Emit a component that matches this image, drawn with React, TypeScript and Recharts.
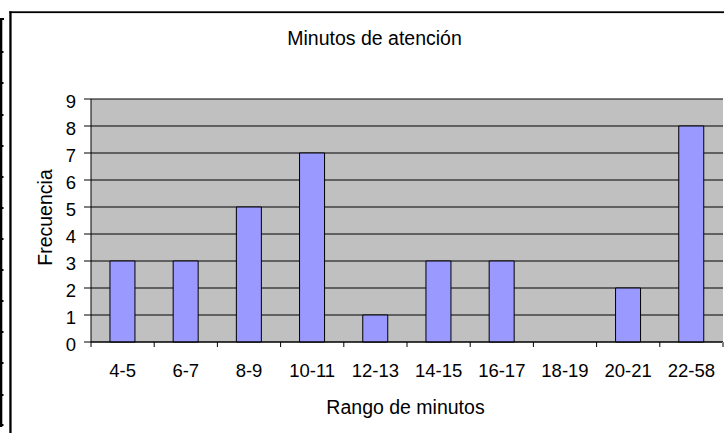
import React from 'react';
import { BarChart, Bar, XAxis, YAxis, CartesianGrid } from 'recharts';

const categories = ['4-5', '6-7', '8-9', '10-11', '12-13', '14-15', '16-17', '18-19', '20-21', '22-58'];
const frequencies = [3, 3, 5, 7, 1, 3, 3, 0, 2, 8];
const yTicks = [0, 1, 2, 3, 4, 5, 6, 7, 8, 9];
const chartTitle = 'Minutos de atención';
const xTitle = 'Rango de minutos';
const yTitle = 'Frecuencia';

const data = categories.map((c, i) => ({ range: c, freq: frequencies[i] }));

const W = 724;
const H = 433;
const M = { top: 99, right: 1, bottom: 61, left: 61 };
const YAXIS_W = 30;
const PLOT_W = W - M.left - M.right - YAXIS_W;
const HALF_BAND = PLOT_W / categories.length / 2;
const FONT = '"Liberation Sans", Arial, sans-serif';
const TICK_FS = 18.5;

const stripTicks = [52, 83, 115, 146, 177, 208, 239, 270, 301, 332, 363, 395, 425];

const XTick = (props: any) => {
  const { x, y, payload, index } = props;
  const last = index === categories.length - 1;
  return (
    <g>
      <line x1={x - HALF_BAND} y1={y} x2={x - HALF_BAND} y2={y + 5} stroke="#000" strokeWidth={1} />
      {last && (
        <line x1={x + HALF_BAND} y1={y} x2={x + HALF_BAND} y2={y + 5} stroke="#808080" strokeWidth={2} />
      )}
      <text x={x} y={y + 35} textAnchor="middle" fontSize={TICK_FS} fontFamily={FONT} fill="#000">
        {payload.value}
      </text>
    </g>
  );
};

export default function App() {
  return (
    <div style={{ position: 'absolute', left: 0, top: 0, width: W, height: H, background: '#fff' }}>
      <BarChart width={W} height={H} data={data} margin={M} barCategoryGap="30%">
        <CartesianGrid vertical={false} stroke="#000" fill="#C0C0C0" fillOpacity={1} />
        <XAxis
          dataKey="range"
          interval={0}
          tickSize={0}
          tickMargin={0}
          tickLine={false}
          axisLine={{ stroke: '#000', strokeWidth: 1 }}
          tick={<XTick />}
          height={30}
        />
        <XAxis
          xAxisId="top"
          orientation="top"
          dataKey="range"
          height={0}
          tick={false}
          tickLine={false}
          axisLine={{ stroke: '#808080', strokeWidth: 2 }}
        />
        <YAxis
          domain={[0, 9]}
          ticks={yTicks}
          interval={0}
          width={YAXIS_W}
          tickSize={7}
          tickMargin={8}
          axisLine={{ stroke: '#000', strokeWidth: 1 }}
          tickLine={{ stroke: '#000', strokeWidth: 1 }}
          tick={{ fontSize: TICK_FS, fill: '#000', fontFamily: FONT, dy: 2 }}
        />
        <YAxis
          yAxisId="right"
          orientation="right"
          width={0}
          tick={false}
          tickLine={false}
          axisLine={{ stroke: '#808080', strokeWidth: 2 }}
        />
        <Bar dataKey="freq" fill="#9999FF" stroke="#000" strokeWidth={1} isAnimationActive={false} />
      </BarChart>
      <svg
        width={W}
        height={H}
        style={{ position: 'absolute', left: 0, top: 0, pointerEvents: 'none' }}
      >
        <rect x={0} y={18} width={2.3} height={409} fill="#000" />
        <rect x={0} y={18} width={4} height={2} fill="#000" />
        {stripTicks.map((t) => (
          <rect key={t} x={2} y={t - 1} width={1.5} height={2} fill="#000" />
        ))}
        <rect x={9.3} y={11.3} width={2.3} height={H} fill="#000" />
        <rect x={9.3} y={11.3} width={W} height={1.8} fill="#000" />
        <text x={374.5} y={45} textAnchor="middle" fontSize={19.5} fontFamily={FONT} fill="#000">
          {chartTitle}
        </text>
        <text x={405.5} y={414} textAnchor="middle" fontSize={19.5} fontFamily={FONT} fill="#000">
          {xTitle}
        </text>
        <text
          transform="translate(51.5,217.5) rotate(-90)"
          textAnchor="middle"
          fontSize={19.5}
          fontFamily={FONT}
          fill="#000"
        >
          {yTitle}
        </text>
      </svg>
    </div>
  );
}
